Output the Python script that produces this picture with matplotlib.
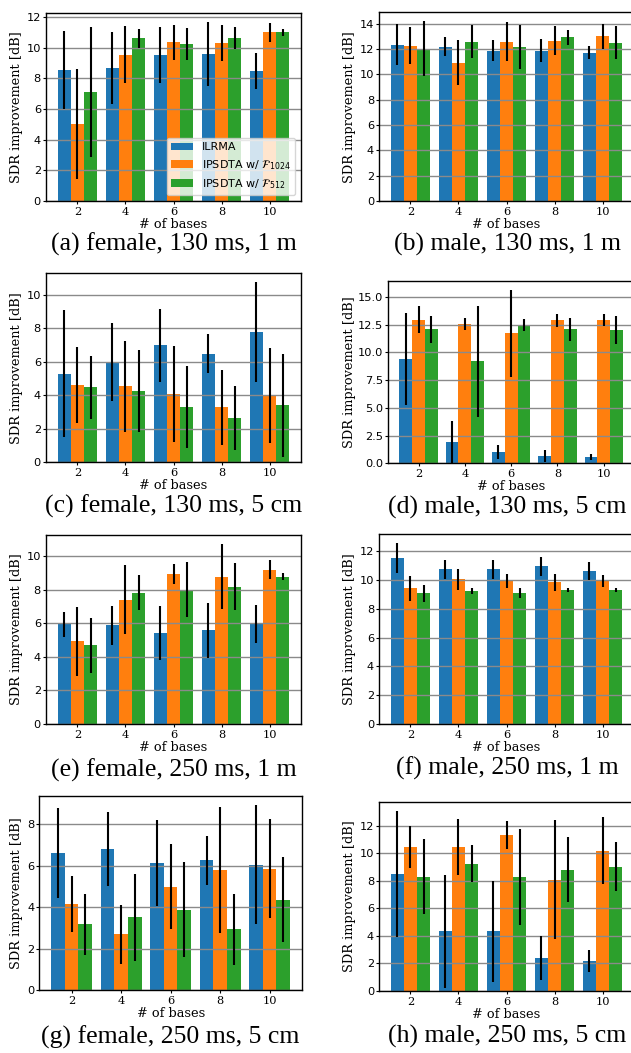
import numpy as np
import matplotlib
matplotlib.use("Agg")
import matplotlib.pyplot as plt
from matplotlib.ticker import MultipleLocator

# ---------------- data ----------------
bases = [2, 4, 6, 8, 10]
methods = ["ILRMA", r"IPSDTA w/ $\mathcal{F}_{1024}$", r"IPSDTA w/ $\mathcal{F}_{512}$"]
colors = ["#1f77b4", "#ff7f0e", "#2ca02c"]

captions = ["(a) female, 130 ms, 1 m", "(b) male, 130 ms, 1 m",
            "(c) female, 130 ms, 5 cm", "(d) male, 130 ms, 5 cm",
            "(e) female, 250 ms, 1 m", "(f) male, 250 ms, 1 m",
            "(g) female, 250 ms, 5 cm", "(h) male, 250 ms, 5 cm"]
ytick_steps = [2, 2, 2, 2.5, 2, 2, 2, 2]

# (a) female, 130 ms, 1 m
a_ilrma = [8.55, 8.66, 9.52, 9.58, 8.48]
a_ilrma_sd = [2.53, 2.35, 1.80, 2.07, 1.17]
a_f1024 = [5.00, 9.52, 10.34, 10.30, 11.00]
a_f1024_sd = [3.58, 1.86, 1.14, 1.17, 0.62]
a_f512 = [7.12, 10.60, 10.23, 10.60, 11.00]
a_f512_sd = [4.23, 0.62, 1.05, 0.71, 0.24]

# (b) male, 130 ms, 1 m
b_ilrma = [12.36, 12.18, 11.89, 11.89, 11.73]
b_ilrma_sd = [1.59, 0.75, 0.82, 0.91, 0.54]
b_f1024 = [12.28, 10.94, 12.60, 12.68, 13.00]
b_f1024_sd = [1.43, 1.79, 1.52, 1.12, 0.99]
b_f512 = [12.02, 12.60, 12.18, 12.92, 12.52]
b_f512_sd = [2.18, 1.33, 1.75, 0.56, 1.32]

# (c) female, 130 ms, 5 cm
c_ilrma = [5.30, 5.97, 6.98, 6.49, 7.76]
c_ilrma_sd = [3.79, 2.33, 2.17, 1.17, 2.99]
c_f1024 = [4.60, 4.54, 4.07, 3.29, 3.97]
c_f1024_sd = [2.27, 2.72, 2.85, 2.24, 2.83]
c_f512 = [4.48, 4.25, 3.29, 2.64, 3.41]
c_f512_sd = [1.89, 2.43, 2.46, 1.90, 3.08]

# (d) male, 130 ms, 5 cm
d_ilrma = [9.39, 1.92, 1.02, 0.66, 0.57]
d_ilrma_sd = [4.13, 1.90, 0.60, 0.50, 0.29]
d_f1024 = [12.96, 12.54, 11.73, 12.90, 12.96]
d_f1024_sd = [1.23, 0.55, 3.93, 0.60, 0.55]
d_f512 = [12.09, 9.21, 12.45, 12.09, 12.00]
d_f512_sd = [1.20, 5.02, 0.53, 1.05, 1.27]

# (e) female, 250 ms, 1 m
e_ilrma = [5.93, 5.87, 5.40, 5.57, 5.93]
e_ilrma_sd = [0.74, 1.14, 1.60, 1.64, 1.13]
e_f1024 = [4.92, 7.41, 8.93, 8.77, 9.19]
e_f1024_sd = [2.05, 2.07, 0.58, 1.95, 0.57]
e_f512 = [4.68, 7.81, 8.00, 8.18, 8.77]
e_f512_sd = [1.63, 1.05, 1.63, 1.42, 0.20]

# (f) male, 250 ms, 1 m
f_ilrma = [11.51, 10.75, 10.75, 10.96, 10.61]
f_ilrma_sd = [1.04, 0.65, 0.66, 0.66, 0.62]
f_f1024 = [9.43, 10.06, 9.92, 9.85, 9.92]
f_f1024_sd = [0.87, 0.74, 0.48, 0.59, 0.42]
f_f512 = [9.09, 9.23, 9.09, 9.29, 9.29]
f_f512_sd = [0.59, 0.23, 0.36, 0.15, 0.15]

# (g) female, 250 ms, 5 cm
g_ilrma = [6.61, 6.79, 6.13, 6.26, 6.04]
g_ilrma_sd = [2.18, 1.79, 2.08, 1.19, 2.87]
g_f1024 = [4.15, 2.68, 4.98, 5.80, 5.85]
g_f1024_sd = [1.33, 1.44, 2.05, 3.04, 2.38]
g_f512 = [3.16, 3.50, 3.88, 2.92, 4.36]
g_f512_sd = [1.45, 2.08, 2.30, 1.73, 2.04]

# (h) male, 250 ms, 5 cm
h_ilrma = [8.51, 4.31, 4.31, 2.36, 2.14]
h_ilrma_sd = [4.58, 4.14, 3.70, 1.59, 0.81]
h_f1024 = [10.46, 10.46, 11.35, 8.07, 10.17]
h_f1024_sd = [1.55, 2.05, 1.02, 4.33, 2.43]
h_f512 = [8.29, 9.23, 8.29, 8.80, 9.01]
h_f512_sd = [2.73, 1.36, 3.50, 2.36, 1.77]

panels = [
    ([a_ilrma, a_f1024, a_f512], [a_ilrma_sd, a_f1024_sd, a_f512_sd]),
    ([b_ilrma, b_f1024, b_f512], [b_ilrma_sd, b_f1024_sd, b_f512_sd]),
    ([c_ilrma, c_f1024, c_f512], [c_ilrma_sd, c_f1024_sd, c_f512_sd]),
    ([d_ilrma, d_f1024, d_f512], [d_ilrma_sd, d_f1024_sd, d_f512_sd]),
    ([e_ilrma, e_f1024, e_f512], [e_ilrma_sd, e_f1024_sd, e_f512_sd]),
    ([f_ilrma, f_f1024, f_f512], [f_ilrma_sd, f_f1024_sd, f_f512_sd]),
    ([g_ilrma, g_f1024, g_f512], [g_ilrma_sd, g_f1024_sd, g_f512_sd]),
    ([h_ilrma, h_f1024, h_f512], [h_ilrma_sd, h_f1024_sd, h_f512_sd]),
]

# ---------------- layout (pixels) ----------------
W, H = 631, 1053
boxes = [  # left, top, right, bottom
    (46, 13.3, 301, 201), (379, 12.3, 634, 201),
    (46, 273.3, 301, 462.3), (388.3, 281, 634, 463.3),
    (46, 535, 301, 724), (379, 534.3, 634, 724),
    (39.3, 796, 302, 990), (379, 801.7, 634, 990.7),
]
ylab_right = [22.7, 356.3, 22.7, 355.7, 22.7, 356.3, 22.7, 356.3]
cap_x = [174, 507, 174, 507, 174, 507, 170, 507]
cap_y = [244, 244, 506, 507, 770, 768, 1037, 1036]

fig = plt.figure(figsize=(W / 100, H / 100), dpi=100)
bar_w = 0.55
x = np.array(bases, dtype=float)

for i, ((means, sds), box) in enumerate(zip(panels, boxes)):
    l, t, r, b = box
    ax = fig.add_axes([l / W, 1 - b / H, (r - l) / W, (b - t) / H])
    for k in range(3):
        ax.bar(x + (k - 1) * bar_w, means[k], bar_w, yerr=sds[k], color=colors[k],
               ecolor="black", error_kw=dict(elinewidth=1.5, capsize=0),
               label=methods[k])
    ax.set_ylim(bottom=0)
    ax.set_xticks(bases)
    ax.yaxis.set_major_locator(MultipleLocator(ytick_steps[i]))
    ax.grid(axis="y", color="#8a8a8a", linewidth=1.0)
    ax.tick_params(axis="both", length=2.4, width=0.8)
    ax.tick_params(axis="x", pad=1.8)
    ax.tick_params(axis="y", pad=1.2)
    ax.set_xticklabels([str(v) for v in bases], fontfamily="DejaVu Serif", fontsize=8.2)
    for lab in ax.get_yticklabels():
        lab.set_fontfamily("DejaVu Sans")
        lab.set_fontsize(8.2)
    ax.tick_params(axis="y", labelsize=8.2)
    ax.set_xlabel("# of bases", fontfamily="DejaVu Serif", fontsize=9.3)
    ax.set_ylabel("SDR improvement [dB]", fontfamily="DejaVu Serif", fontsize=9.3)
    hpx = b - t
    wpx = r - l
    ax.xaxis.set_label_coords(0.5, -17.0 / hpx)
    ax.yaxis.set_label_coords((ylab_right[i] - l) / wpx, 0.5)
    for s in ax.spines.values():
        s.set_linewidth(1.0)
    if i == 0:
        ax.legend(loc="lower right", fontsize=8, borderaxespad=0.5)
    fig.text(cap_x[i] / W, 1 - cap_y[i] / H, captions[i], ha="center", va="center",
             fontfamily="Liberation Serif", fontsize=18.5)

fig.savefig("out.png", dpi=100)
